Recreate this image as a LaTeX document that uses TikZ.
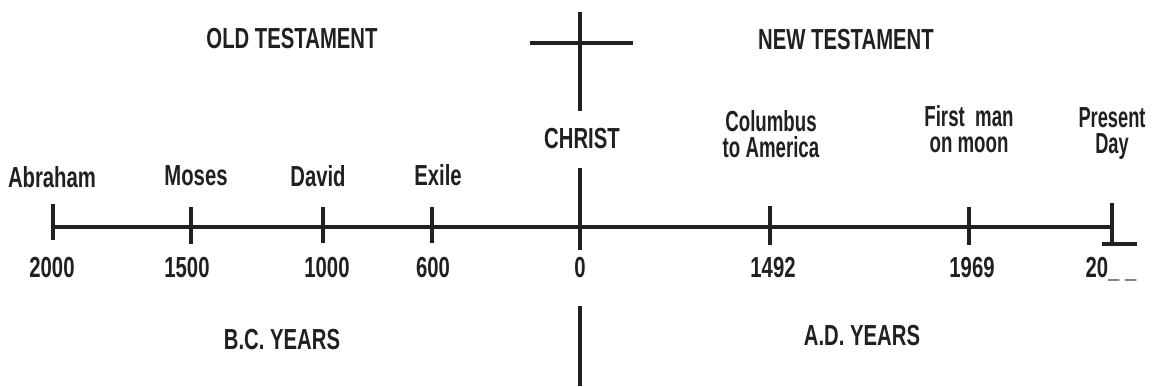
\documentclass[tikz,border=0pt]{standalone}
\usepackage{fontspec}
\setmainfont{Liberation Sans}[FakeStretch=0.7]
\definecolor{ink}{HTML}{231F20}
\begin{document}
\begin{tikzpicture}[x=1pt,y=-1pt,
  lbl/.style={font=\bfseries\fontsize{29}{25.5}\selectfont, text=ink, inner sep=0pt, anchor=base, align=center},
  bar/.style={draw=ink, line width=4pt},
  tick/.style={draw=ink, line width=4.5pt}]
\useasboundingbox (0,0) rectangle (1157,386);
% headings
\node[lbl] (ot) at (292,48) {OLD TESTAMENT};
\node[lbl] (nt) at (846,49) {NEW TESTAMENT};
\node[lbl] (bc) at (282,349) {B.C. YEARS};
\node[lbl] (ad) at (862,345) {A.D. YEARS};
\node[lbl] (christ) at (582,148) {CHRIST};
% cross
\coordinate (crossT) at (580,12);
\coordinate (crossB) at (580,111);
\coordinate (crossL) at (530,43);
\coordinate (crossR) at (633,43);
\draw[bar, line width=4.5pt] (crossT) -- (crossB);
\draw[bar, line width=4.5pt] (crossL) -- (crossR);
\coordinate (lowT) at (580,306);
\coordinate (lowB) at (580,386);
\draw[bar, line width=4.5pt] (lowT) -- (lowB);
% main line
\coordinate (start) at (53,227);
\coordinate (end) at (1110,227);
\draw[bar] (start) -- (end);
% ticks
\draw[tick] (53,204) -- (53,240);
\draw[tick] (191,207) -- (191,244);
\draw[tick] (323,207) -- (323,243);
\draw[tick] (432,207) -- (432,243);
\draw[tick] (580,168) -- (580,250);
\draw[tick] (770,206) -- (770,245);
\draw[tick] (969,207) -- (969,245);
\draw[tick] (1112,203) -- (1112,244);
\draw[tick] (1102,244) -- (1137,244);
% event labels
\node[lbl] (abr) at (52,187) {Abraham};
\node[lbl] (mos) at (196,185) {Moses};
\node[lbl] (dav) at (318,186) {David};
\node[lbl] (exi) at (438,185) {Exile};
\node[lbl] (col) at (771,157) {\scalebox{0.92}[1]{Columbus}\\\scalebox{0.92}[1]{to America}};
\node[lbl] (fmm) at (969,152) {\scalebox{0.92}[1]{First\ \ man}\\\scalebox{0.92}[1]{on moon}};
\node[lbl] (pre) at (1112,153) {\scalebox{0.9}[1]{Present}\\\scalebox{0.9}[1]{Day}};
% years
\node[lbl] (y2000) at (52,277) {2000};
\node[lbl] (y1500) at (187,277) {1500};
\node[lbl] (y1000) at (327,277) {1000};
\node[lbl] (y600) at (433,277) {600};
\node[lbl] (y0) at (580,277) {0};
\node[lbl] (y1492) at (773,277) {1492};
\node[lbl] (y1969) at (972,277) {1969};
\node[lbl] (ynow) at (1111,277) {20\_ \_};
\end{tikzpicture}
\end{document}
